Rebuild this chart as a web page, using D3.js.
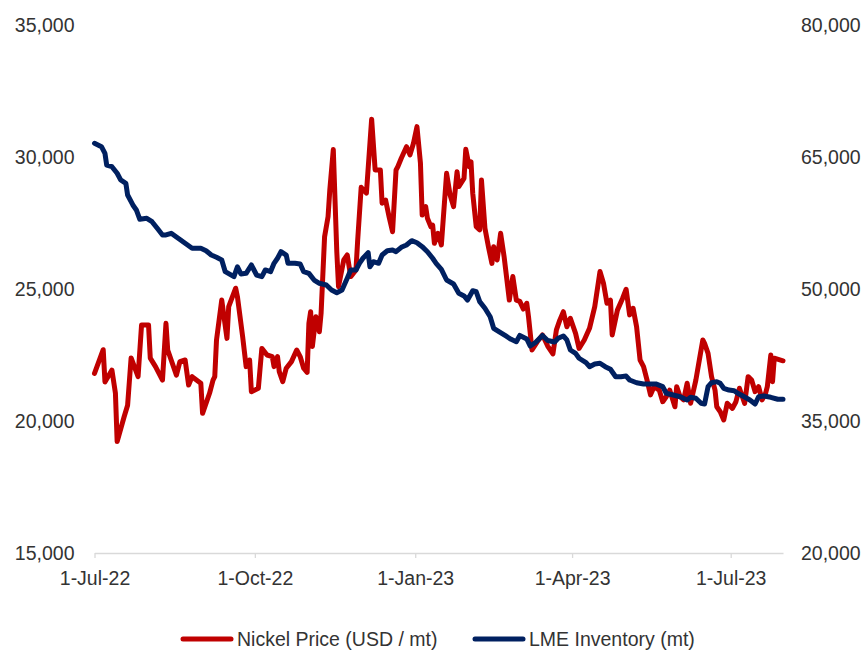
<!DOCTYPE html>
<html>
<head>
<meta charset="utf-8">
<script src="https://cdn.jsdelivr.net/npm/d3@7"></script>
<style>
  html, body { margin: 0; padding: 0; background: #fff; }
  svg text { font-family: "Liberation Sans", Arial, sans-serif; fill: #333; }
</style>
</head>
<body>
<svg id="chart" width="865" height="651"></svg>
<script>
// Nickel price (USD/mt), left axis
const priceDates = ["2022-07-01","2022-07-06","2022-07-07","2022-07-11","2022-07-13","2022-07-14","2022-07-18","2022-07-20","2022-07-22","2022-07-26","2022-07-28","2022-08-01","2022-08-02","2022-08-05","2022-08-09","2022-08-11","2022-08-12","2022-08-17","2022-08-19","2022-08-22","2022-08-24","2022-08-26","2022-08-31","2022-09-01","2022-09-05","2022-09-07","2022-09-08","2022-09-09","2022-09-12","2022-09-15","2022-09-16","2022-09-20","2022-09-21","2022-09-24","2022-09-26","2022-09-28","2022-09-29","2022-10-03","2022-10-05","2022-10-08","2022-10-11","2022-10-12","2022-10-14","2022-10-15","2022-10-17","2022-10-19","2022-10-22","2022-10-25","2022-10-27","2022-10-29","2022-10-31","2022-11-01","2022-11-02","2022-11-03","2022-11-05","2022-11-07","2022-11-08","2022-11-10","2022-11-12","2022-11-13","2022-11-15","2022-11-17","2022-11-18","2022-11-21","2022-11-23","2022-11-25","2022-11-28","2022-11-29","2022-12-01","2022-12-04","2022-12-07","2022-12-09","2022-12-12","2022-12-13","2022-12-15","2022-12-17","2022-12-19","2022-12-21","2022-12-22","2022-12-24","2022-12-27","2022-12-29","2022-12-31","2023-01-02","2023-01-04","2023-01-05","2023-01-07","2023-01-08","2023-01-10","2023-01-11","2023-01-12","2023-01-14","2023-01-16","2023-01-19","2023-01-21","2023-01-23","2023-01-25","2023-01-26","2023-01-29","2023-01-30","2023-02-01","2023-02-02","2023-02-03","2023-02-05","2023-02-07","2023-02-08","2023-02-10","2023-02-12","2023-02-14","2023-02-15","2023-02-17","2023-02-19","2023-02-21","2023-02-24","2023-02-26","2023-02-28","2023-03-02","2023-03-04","2023-03-06","2023-03-07","2023-03-09","2023-03-12","2023-03-15","2023-03-18","2023-03-21","2023-03-23","2023-03-25","2023-03-27","2023-03-29","2023-03-31","2023-04-03","2023-04-05","2023-04-08","2023-04-11","2023-04-14","2023-04-17","2023-04-19","2023-04-21","2023-04-23","2023-04-24","2023-04-27","2023-04-30","2023-05-02","2023-05-04","2023-05-06","2023-05-08","2023-05-10","2023-05-12","2023-05-14","2023-05-16","2023-05-18","2023-05-21","2023-05-23","2023-05-25","2023-05-27","2023-05-30","2023-05-31","2023-06-02","2023-06-04","2023-06-06","2023-06-08","2023-06-11","2023-06-13","2023-06-15","2023-06-16","2023-06-18","2023-06-20","2023-06-22","2023-06-23","2023-06-25","2023-06-27","2023-06-29","2023-07-02","2023-07-04","2023-07-06","2023-07-07","2023-07-09","2023-07-11","2023-07-13","2023-07-15","2023-07-17","2023-07-19","2023-07-21","2023-07-22","2023-07-24","2023-07-25","2023-07-26","2023-07-31"];
const priceValues = [21800,22700,21480,21930,21060,19220,20160,20600,22390,21680,23640,23640,22380,22060,21550,23700,22690,21740,22250,22310,21360,21680,21430,20290,21050,21550,21680,23070,24580,23130,24330,25030,24710,23190,22060,22310,21110,21240,22750,22500,22440,22060,22440,21870,21490,22000,22250,22690,22440,22000,21840,23700,24140,22820,23950,23380,24080,26980,27740,28750,30280,26420,25090,26100,26290,25470,25720,26860,28850,28630,31430,29510,29510,28250,28370,27740,27170,29510,29630,29950,30390,30080,30520,31150,29760,27800,28120,27680,27360,27420,26730,27110,26670,29380,28560,28120,29440,28880,29190,30290,29630,29820,28630,27360,27240,29130,27300,26600,25970,26600,26100,27110,26220,24580,25470,24580,24530,24240,24460,23950,22690,23000,23260,22840,22540,23450,23830,24140,23570,23890,23320,22750,23070,23510,24330,25660,25220,24460,24580,23260,24200,24650,24990,24020,24270,23570,22310,22060,21550,20990,21300,21170,20730,20920,21170,20540,21300,20920,20800,21430,20670,21550,22310,23070,22940,22560,21680,21170,20540,20350,20040,20670,20480,20730,21240,21050,20670,21680,21550,21110,21300,20800,21050,21300,22500,21490,22380,22280];

// LME nickel inventory (mt), right axis
const stockDates = ["2022-07-01","2022-07-05","2022-07-07","2022-07-08","2022-07-11","2022-07-14","2022-07-16","2022-07-19","2022-07-20","2022-07-23","2022-07-25","2022-07-27","2022-07-31","2022-08-03","2022-08-06","2022-08-09","2022-08-11","2022-08-14","2022-08-18","2022-08-22","2022-08-26","2022-08-31","2022-09-03","2022-09-06","2022-09-09","2022-09-12","2022-09-14","2022-09-19","2022-09-21","2022-09-23","2022-09-26","2022-09-29","2022-10-02","2022-10-05","2022-10-07","2022-10-10","2022-10-12","2022-10-14","2022-10-16","2022-10-19","2022-10-20","2022-10-24","2022-10-27","2022-10-29","2022-11-01","2022-11-04","2022-11-07","2022-11-11","2022-11-14","2022-11-17","2022-11-20","2022-11-23","2022-11-25","2022-11-28","2022-11-30","2022-12-02","2022-12-05","2022-12-06","2022-12-08","2022-12-11","2022-12-13","2022-12-16","2022-12-19","2022-12-21","2022-12-24","2022-12-27","2022-12-30","2023-01-02","2023-01-05","2023-01-08","2023-01-11","2023-01-13","2023-01-16","2023-01-19","2023-01-23","2023-01-26","2023-01-29","2023-01-31","2023-02-03","2023-02-05","2023-02-07","2023-02-10","2023-02-13","2023-02-15","2023-02-18","2023-02-22","2023-02-25","2023-02-28","2023-03-02","2023-03-06","2023-03-08","2023-03-11","2023-03-15","2023-03-18","2023-03-22","2023-03-24","2023-03-27","2023-03-29","2023-03-31","2023-04-03","2023-04-05","2023-04-09","2023-04-11","2023-04-14","2023-04-17","2023-04-20","2023-04-23","2023-04-26","2023-04-29","2023-05-02","2023-05-04","2023-05-08","2023-05-12","2023-05-16","2023-05-19","2023-05-23","2023-05-25","2023-05-29","2023-06-02","2023-06-06","2023-06-08","2023-06-11","2023-06-14","2023-06-16","2023-06-18","2023-06-20","2023-06-23","2023-06-25","2023-06-27","2023-06-30","2023-07-03","2023-07-05","2023-07-08","2023-07-12","2023-07-15","2023-07-17","2023-07-20","2023-07-24","2023-07-28","2023-07-31"];
const stockValues = [66560,66170,65420,64090,63900,63150,62390,62010,60680,59550,58980,57920,58030,57650,56900,56140,56140,56330,55760,55190,54630,54630,54350,53860,53600,53300,51970,51400,52530,51710,51780,52730,51590,51400,52160,51970,52920,53490,54240,53860,52920,52920,52840,51970,51780,51020,50650,50460,49890,49580,49890,51220,52160,52160,52920,53490,54130,52530,53100,52920,53860,54350,54430,54240,54740,55000,55490,55260,54810,54240,53490,52920,52240,51020,50570,49510,49210,48750,49810,49690,48560,47810,46850,45530,45150,44660,44280,44010,44720,44320,43520,43920,44720,44150,43980,44400,44660,44210,43070,42690,42130,41630,41170,41480,41560,41170,40880,40030,40030,40110,39660,39350,39210,39210,39210,38900,38150,37960,37760,37390,37690,37580,37010,36930,38900,39350,39470,39280,38720,38520,38440,38150,37840,37390,36930,37760,37840,37690,37470,37470];

const seriesNames = ["Nickel Price (USD / mt)", "LME Inventory (mt)"];
const seriesColors = ["#C00000", "#002060"];

const xTickDates = ["2022-07-01","2022-10-01","2023-01-01","2023-04-01","2023-07-01"];
const leftTicks = [15000, 20000, 25000, 30000, 35000];
const rightTicks = [20000, 35000, 50000, 65000, 80000];

const parse = d3.utcParse("%Y-%m-%d");
const svg = d3.select("#chart");

const plot = { left: 94.5, right: 783, top: 25, bottom: 553 };

const x = d3.scaleUtc()
  .domain([parse("2022-07-01"), parse("2023-07-31")])
  .range([plot.left, plot.right]);
const yLeft = d3.scaleLinear().domain([15000, 35000]).range([plot.bottom, plot.top]);
const yRight = d3.scaleLinear().domain([20000, 80000]).range([plot.bottom, plot.top]);

const fmtDate = d => `${d.getUTCDate()}-${d3.utcFormat("%b")(d)}-${d3.utcFormat("%y")(d)}`;
const fmtNum = d3.format(",");

// bottom date axis
const xAxis = svg.append("g")
  .attr("transform", `translate(0,${plot.bottom})`)
  .call(d3.axisBottom(x)
    .tickValues(xTickDates.map(parse))
    .tickFormat(fmtDate)
    .tickSizeInner(5).tickSizeOuter(0).tickPadding(13));
xAxis.select(".domain").attr("stroke", "#d9d9d9").attr("stroke-width", 1.3);
xAxis.selectAll(".tick line").attr("stroke", "#d9d9d9").attr("stroke-width", 1.3);
xAxis.selectAll(".tick text").attr("font-size", 19.5).attr("fill", "#333");

// left value axis
const lAxis = svg.append("g")
  .attr("transform", `translate(${plot.left},0)`)
  .call(d3.axisLeft(yLeft).tickValues(leftTicks).tickFormat(fmtNum).tickSize(0).tickPadding(20));
lAxis.select(".domain").remove();
lAxis.selectAll(".tick text").attr("font-size", 19.5).attr("fill", "#333");

// right value axis
const rAxis = svg.append("g")
  .attr("transform", `translate(${plot.right},0)`)
  .call(d3.axisRight(yRight).tickValues(rightTicks).tickFormat(fmtNum).tickSize(0).tickPadding(18));
rAxis.select(".domain").remove();
rAxis.selectAll(".tick text").attr("font-size", 19.5).attr("fill", "#333");

// series lines
const priceData = priceDates.map((d, i) => ({ date: parse(d), value: priceValues[i] }));
const stockData = stockDates.map((d, i) => ({ date: parse(d), value: stockValues[i] }));

const priceLine = d3.line().x(d => x(d.date)).y(d => yLeft(d.value));
const stockLine = d3.line().x(d => x(d.date)).y(d => yRight(d.value));

svg.append("path").datum(priceData)
  .attr("d", priceLine).attr("fill", "none")
  .attr("stroke", seriesColors[0]).attr("stroke-width", 5)
  .attr("stroke-linejoin", "round").attr("stroke-linecap", "round");

svg.append("path").datum(stockData)
  .attr("d", stockLine).attr("fill", "none")
  .attr("stroke", seriesColors[1]).attr("stroke-width", 5)
  .attr("stroke-linejoin", "round").attr("stroke-linecap", "round");

// legend
const legendX = [181, 473];
const legend = svg.append("g");
seriesNames.forEach((name, i) => {
  legend.append("line")
    .attr("x1", legendX[i] + 2).attr("x2", legendX[i] + 50)
    .attr("y1", 639).attr("y2", 639)
    .attr("stroke", seriesColors[i]).attr("stroke-width", 5)
    .attr("stroke-linecap", "round");
  legend.append("text")
    .attr("x", legendX[i] + 56).attr("y", 646)
    .attr("font-size", 19.5).attr("fill", "#333")
    .text(name);
});
</script>
</body>
</html>
